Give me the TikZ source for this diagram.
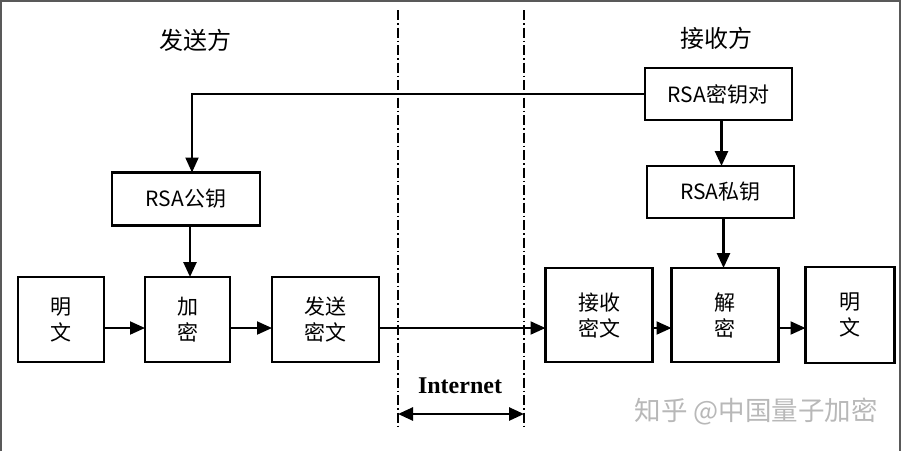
\documentclass[tikz,border=0pt]{standalone}
\usepackage{fontspec}
\setmainfont{Noto Sans CJK SC}
\newfontfamily\netfont{Liberation Serif}
\usetikzlibrary{arrows.meta,positioning,calc}

\begin{document}
\begin{tikzpicture}[x=1pt, y=-1pt, >={Triangle[length=15pt,width=13pt]},
    node distance=41pt,
    box/.style={draw=black, line width=2.6pt, inner sep=0pt, outer sep=0pt,
                align=center, font=\fontsize{21}{26}\selectfont},
    flow/.style={->, line width=2pt},
    sideline/.style={line width=2.4pt, dash pattern=on 10pt off 3pt on 1.5pt off 3pt},
    caption/.style={font=\fontsize{24}{28}\selectfont}]
  \useasboundingbox (0,0) rectangle (902,451);
  % frame
  \draw[black!65, line width=2pt] (1,451) -- (1,1) -- (900,1) -- (900,451);

  % sender side
  \node[caption] (sender) at (195,40) {发送方};
  \node[box, minimum width=86pt, minimum height=85pt] (plainL) at (61,319.5) {明\\文};
  \node[box, minimum width=85pt, minimum height=85pt, right=41pt of plainL] (enc) {加\\密};
  \node[box, minimum width=107pt, minimum height=85pt, right=42pt of enc] (sendC) {发送\\密文};
  \node[box, minimum width=148pt, minimum height=53pt] (pub) at (186,199) {RSA公钥};

  % receiver side
  \node[caption] (receiver) at (716,38) {接收方};
  \node[box, minimum width=147pt, minimum height=52pt] (pair) at (718.5,94) {RSA密钥对};
  \node[box, minimum width=147pt, minimum height=52pt] (priv) at (720.5,192) {RSA私钥};
  \node[box, minimum width=107pt, minimum height=94pt] (recvC) at (599,315) {接收\\密文};
  \node[box, minimum width=107pt, minimum height=94pt, right=19pt of recvC] (dec) {解\\密};
  \node[box, minimum width=89pt, minimum height=96pt, right=27pt of dec] (plainR) {明\\文};

  % internet zone
  \coordinate (netLtop) at (398,10);
  \coordinate (netLbot) at (398,430);
  \coordinate (netRtop) at (524,10);
  \coordinate (netRbot) at (524,430);
  \draw[sideline] (netLtop) -- (netLbot);
  \draw[sideline] (netRtop) -- (netRbot);
  \node[font=\netfont\bfseries\fontsize{24}{28}\selectfont] (net) at (460,386) {Internet};
  \coordinate (netL) at (398,414);
  \coordinate (netR) at (524,414);
  \draw[{Triangle[length=15pt,width=13pt]}-{Triangle[length=15pt,width=13pt]}, line width=2.6pt] (netL) -- (netR);

  % connectors
  \draw[flow] (pair.west) -| ([xshift=6pt]pub.north);
  \draw[flow, line width=2.6pt] ([xshift=4pt]pub.south) -- ([xshift=4pt]pub.south |- enc.north);
  \draw[flow, line width=2.6pt] ([xshift=3pt]pair.south) -- ([xshift=3pt]pair.south |- priv.north);
  \draw[flow, line width=2.6pt] ([xshift=3pt]priv.south) -- ([xshift=3pt]priv.south |- dec.north);
  \draw[flow] ([yshift=-8.5pt]plainL.east) -- ([yshift=-8.5pt]enc.west);
  \draw[flow] ([yshift=-8.5pt]enc.east) -- ([yshift=-8.5pt]sendC.west);
  \draw[flow] ([yshift=-8.5pt]sendC.east) coordinate (out) -- (out -| recvC.west);
  \draw[flow] ([yshift=-13pt]recvC.east) -- ([yshift=-13pt]dec.west);
  \draw[flow] ([yshift=-13pt]dec.east) -- ([yshift=-13pt]plainR.west);

  % watermark
  \node[text=black!28, font=\fontsize{26.5}{30}\selectfont] (mark) at (756,412) {知乎 @中国量子加密};
\end{tikzpicture}
\end{document}
